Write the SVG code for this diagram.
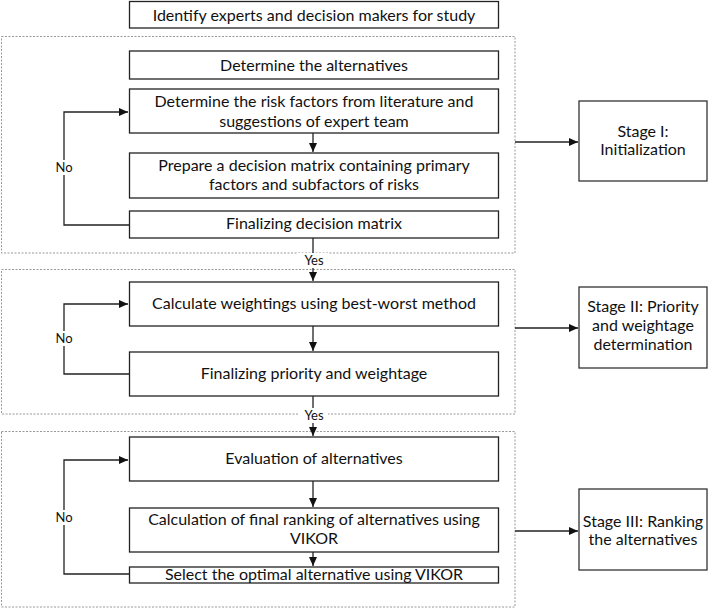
<svg xmlns="http://www.w3.org/2000/svg" width="709" height="608" viewBox="0 0 709 608">
<defs>
<marker id="ah" markerWidth="10" markerHeight="10" refX="9" refY="5" orient="auto" markerUnits="userSpaceOnUse">
<path d="M0,1 L9,5 L0,9 Z" fill="#111"/>
</marker>
<style>
.box{fill:#fff;stroke:#222;stroke-width:1.3}
.stage{fill:#fff;stroke:#333;stroke-width:1.3}
.dash{fill:none;stroke:#999;stroke-width:1;stroke-dasharray:2,1.5}
.t{font-family:Lato,"Liberation Sans",sans-serif;font-size:16px;fill:#111;text-anchor:middle}
.s{font-family:Lato,"Liberation Sans",sans-serif;font-size:13px;fill:#111;text-anchor:middle}
.c{fill:none;stroke:#222;stroke-width:1.3}
</style>
</defs>
<rect width="709" height="608" fill="#fff"/>
<g id="stages-frames">
<rect class="dash" x="1.5" y="36.5" width="513.5" height="216.5"/>
<rect class="dash" x="1.5" y="269.5" width="513.5" height="144.5"/>
<rect class="dash" x="1.5" y="431.5" width="513.5" height="175.5"/>
</g>
<g id="connectors">
<path class="c" d="M313,133 V152" marker-end="url(#ah)"/>
<path class="c" d="M313,238 V281" marker-end="url(#ah)"/>
<path class="c" d="M313,326 V351" marker-end="url(#ah)"/>
<path class="c" d="M313,396 V436" marker-end="url(#ah)"/>
<path class="c" d="M313,481 V507" marker-end="url(#ah)"/>
<path class="c" d="M313,552 V566" marker-end="url(#ah)"/>
<path class="c" d="M129,225 H64 V112 H128" marker-end="url(#ah)"/>
<path class="c" d="M129,374 H64 V304 H128" marker-end="url(#ah)"/>
<path class="c" d="M129,574 H64 V460 H128" marker-end="url(#ah)"/>
<path class="c" d="M515,142 H578" marker-end="url(#ah)"/>
<path class="c" d="M515,328 H578" marker-end="url(#ah)"/>
<path class="c" d="M515,531 H578" marker-end="url(#ah)"/>
<rect x="298" y="253" width="30" height="15" fill="#fff"/>
<text class="s" x="314" y="265">Yes</text>
<rect x="298" y="408" width="30" height="15" fill="#fff"/>
<text class="s" x="314" y="420">Yes</text>
<rect x="54" y="160" width="22" height="15" fill="#fff"/>
<text class="s" x="64" y="172">No</text>
<rect x="54" y="331" width="22" height="15" fill="#fff"/>
<text class="s" x="64" y="343">No</text>
<rect x="54" y="510" width="22" height="15" fill="#fff"/>
<text class="s" x="64" y="522">No</text>
</g>
<g id="n-identify">
<rect class="box" x="129.5" y="1.5" width="369" height="26.5"/>
<text class="t" x="314" y="21">Identify experts and decision makers for study</text>
</g>
<g id="n-alternatives">
<rect class="box" x="129.5" y="51" width="369" height="28"/>
<text class="t" x="314" y="71">Determine the alternatives</text>
</g>
<g id="n-risk">
<rect class="box" x="129.5" y="89" width="369" height="44"/>
<text class="t" x="314" y="107">Determine the risk factors from literature and</text>
<text class="t" x="314" y="127">suggestions of expert team</text>
</g>
<g id="n-prepare">
<rect class="box" x="129.5" y="153" width="369" height="45"/>
<text class="t" x="314" y="171">Prepare a decision matrix containing primary</text>
<text class="t" x="314" y="190">factors and subfactors of risks</text>
</g>
<g id="n-final-matrix">
<rect class="box" x="129.5" y="211" width="369" height="27"/>
<text class="t" x="314" y="229">Finalizing decision matrix</text>
</g>
<g id="n-bwm">
<rect class="box" x="129.5" y="282" width="369" height="44"/>
<text class="t" x="314" y="309">Calculate weightings using best-worst method</text>
</g>
<g id="n-final-priority">
<rect class="box" x="129.5" y="352" width="369" height="44"/>
<text class="t" x="314" y="379">Finalizing priority and weightage</text>
</g>
<g id="n-evaluation">
<rect class="box" x="129.5" y="437" width="369" height="44"/>
<text class="t" x="314" y="464">Evaluation of alternatives</text>
</g>
<g id="n-ranking">
<rect class="box" x="129.5" y="508" width="369" height="44"/>
<text class="t" x="314" y="525">Calculation of final ranking of alternatives using</text>
<text class="t" x="314" y="544">VIKOR</text>
</g>
<g id="n-select">
<rect class="box" x="129.5" y="567" width="369" height="16"/>
<text class="t" x="314" y="580">Select the optimal alternative using VIKOR</text>
</g>
<g id="n-stage1">
<rect class="stage" x="579" y="101" width="128" height="80"/>
<text class="t" x="643" y="137">Stage I:</text>
<text class="t" x="643" y="155">Initialization</text>
</g>
<g id="n-stage2">
<rect class="stage" x="579" y="287" width="128" height="81"/>
<text class="t" x="643" y="312">Stage II: Priority</text>
<text class="t" x="643" y="331">and weightage</text>
<text class="t" x="643" y="350">determination</text>
</g>
<g id="n-stage3">
<rect class="stage" x="579" y="489" width="128" height="81"/>
<text class="t" x="643" y="527">Stage III: Ranking</text>
<text class="t" x="643" y="545">the alternatives</text>
</g>
</svg>
